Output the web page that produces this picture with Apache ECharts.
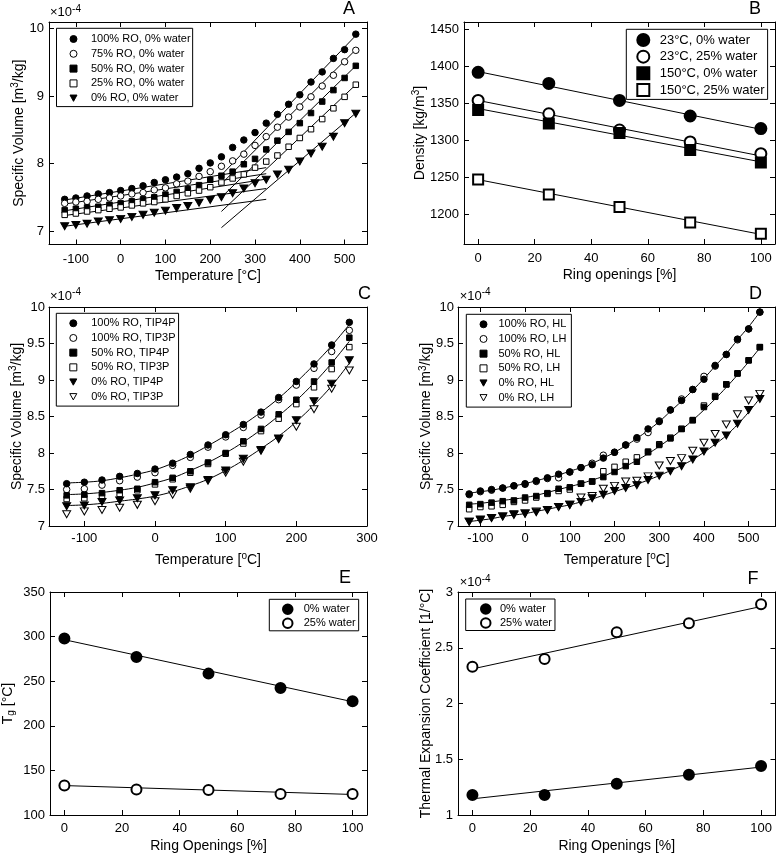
<!DOCTYPE html>
<html><head><meta charset="utf-8">
<script src="https://cdn.jsdelivr.net/npm/echarts@6/dist/echarts.min.js"></script>
<style>html,body{margin:0;padding:0;background:#fff}#c{width:777px;height:855px}</style>
</head><body><div id="c"></div>
<script>
const FONT = '"Liberation Sans", Arial, Helvetica, sans-serif';

// ---------- Panel A: specific volume (x1e-4 m3/kg) vs temperature ----------
const tempA = [-125,-100,-75,-50,-25,0,25,50,75,100,125,150,175,200,225,250,275,300,325,350,375,400,425,450,475,500,525];
const A_ro100 = [7.47,7.49,7.52,7.55,7.57,7.60,7.63,7.67,7.72,7.76,7.80,7.85,7.93,8.01,8.10,8.24,8.35,8.46,8.60,8.73,8.88,9.02,9.21,9.36,9.56,9.69,9.92];
const A_ro75  = [7.41,7.43,7.44,7.47,7.49,7.52,7.55,7.57,7.61,7.64,7.70,7.74,7.81,7.88,7.96,8.04,8.14,8.27,8.40,8.54,8.69,8.84,8.99,9.15,9.31,9.51,9.68];
const A_ro50  = [7.31,7.33,7.35,7.36,7.39,7.41,7.44,7.47,7.50,7.54,7.58,7.62,7.68,7.76,7.82,7.88,7.99,8.07,8.21,8.34,8.47,8.60,8.75,8.92,9.09,9.27,9.45];
const A_ro25  = [7.24,7.26,7.29,7.31,7.33,7.35,7.38,7.41,7.43,7.47,7.52,7.56,7.60,7.65,7.72,7.78,7.84,7.94,8.03,8.12,8.25,8.38,8.51,8.66,8.82,8.99,9.17];
const A_ro0   = [7.07,7.09,7.11,7.14,7.16,7.18,7.21,7.24,7.27,7.30,7.34,7.37,7.42,7.46,7.50,7.56,7.63,7.71,7.76,7.84,7.91,8.03,8.15,8.25,8.40,8.60,8.74];
// fitted glassy / rubbery lines (end points)
const A_glassT = [-125, 325];
const A_glass100 = [7.46, 7.94], A_glass75 = [7.40, 7.85], A_glass50 = [7.30, 7.77], A_glass25 = [7.23, 7.63], A_glass0 = [7.07, 7.47];
const A_rubT = [225, 525];
const A_rub100 = [7.83, 9.90], A_rub75 = [7.70, 9.69], A_rub50 = [7.50, 9.45], A_rub25 = [7.29, 9.17], A_rub0 = [7.05, 8.75];

// ---------- Panel B: density vs ring openings ----------
const ringB = [0,25,50,75,100];
const B_23_0   = [1392,1377,1354,1333,1316];
const B_23_25  = [1354,1336,1314,1298,1282];
const B_150_0  = [1341,1323,1310,1287,1270];
const B_150_25 = [1247,1227,1210,1189,1174];
const B_fitX = [0,100];
const B_fit23_0 = [1393,1315], B_fit23_25 = [1354,1279], B_fit150_0 = [1343,1271], B_fit150_25 = [1247,1173];

// ---------- Panel C: water models ----------
const tempC = [-125,-100,-75,-50,-25,0,25,50,75,100,125,150,175,200,225,250,275];
const C_100_4 = [7.58,7.60,7.63,7.68,7.72,7.78,7.86,7.98,8.11,8.25,8.39,8.56,8.76,8.98,9.22,9.48,9.79];
const C_100_3 = [7.50,7.51,7.56,7.62,7.67,7.73,7.83,7.94,8.08,8.22,8.35,8.52,8.73,8.93,9.16,9.39,9.68];
const C_50_4  = [7.42,7.43,7.45,7.49,7.51,7.60,7.66,7.75,7.87,8.00,8.16,8.33,8.53,8.73,8.98,9.24,9.58];
const C_50_3  = [7.37,7.38,7.41,7.44,7.49,7.57,7.64,7.73,7.85,7.99,8.13,8.30,8.47,8.67,8.90,9.15,9.45];
const C_0_4   = [7.27,7.28,7.33,7.35,7.38,7.42,7.49,7.53,7.63,7.76,7.92,8.04,8.20,8.45,8.71,8.95,9.27];
const C_0_3   = [7.16,7.20,7.22,7.25,7.29,7.34,7.43,7.51,7.62,7.73,7.88,8.03,8.19,8.36,8.60,8.88,9.13];
const C_fit100 = [7.59,7.60,7.62,7.66,7.71,7.77,7.86,7.97,8.10,8.24,8.39,8.56,8.75,8.97,9.21,9.47,9.76];
const C_fit50  = [7.43,7.44,7.46,7.49,7.53,7.59,7.66,7.76,7.87,8.00,8.15,8.32,8.51,8.72,8.96,9.23,9.53];
const C_fit0   = [7.28,7.29,7.31,7.34,7.37,7.41,7.47,7.55,7.64,7.76,7.90,8.06,8.23,8.43,8.66,8.92,9.23];

// ---------- Panel D: heating/cooling ----------
const tempD = [-125,-100,-75,-50,-25,0,25,50,75,100,125,150,175,200,225,250,275,300,325,350,375,400,425,450,475,500,525];
const D_100HL = [7.44,7.48,7.50,7.52,7.55,7.58,7.62,7.66,7.71,7.74,7.80,7.84,7.93,8.01,8.11,8.21,8.33,8.43,8.59,8.72,8.87,9.01,9.20,9.35,9.56,9.70,9.93];
const D_100LH = [7.43,7.47,7.49,7.52,7.55,7.57,7.61,7.65,7.66,7.74,7.80,7.86,7.97,8.01,8.11,8.19,8.28,8.44,8.59,8.74,8.87,9.05,9.19,9.35,9.55,9.70,9.93];
const D_50HL  = [7.29,7.30,7.32,7.34,7.35,7.39,7.41,7.45,7.51,7.53,7.58,7.61,7.67,7.74,7.82,7.88,8.01,8.11,8.20,8.33,8.45,8.63,8.77,8.94,9.09,9.27,9.45];
const D_50LH  = [7.23,7.26,7.27,7.29,7.33,7.35,7.39,7.44,7.48,7.50,7.58,7.61,7.75,7.81,7.88,7.94,8.02,8.12,8.21,8.33,8.45,8.65,8.78,8.94,9.09,9.27,9.45];
const D_0HL   = [7.06,7.09,7.11,7.13,7.16,7.17,7.19,7.22,7.26,7.29,7.33,7.38,7.43,7.48,7.52,7.56,7.63,7.69,7.75,7.82,7.91,8.02,8.14,8.24,8.40,8.59,8.74];
const D_0LH   = [7.06,7.08,7.11,7.13,7.15,7.17,7.20,7.22,7.26,7.29,7.39,7.41,7.51,7.55,7.61,7.62,7.68,7.83,7.89,7.93,8.03,8.14,8.26,8.39,8.53,8.72,8.81];
const D_fit100 = [7.45,7.47,7.49,7.52,7.55,7.58,7.62,7.66,7.70,7.75,7.80,7.86,7.93,8.01,8.10,8.20,8.31,8.43,8.57,8.71,8.86,9.02,9.19,9.36,9.55,9.73,9.93];
const D_fit50  = [7.30,7.31,7.33,7.35,7.37,7.39,7.42,7.46,7.50,7.54,7.58,7.63,7.68,7.75,7.82,7.90,7.99,8.09,8.20,8.32,8.45,8.59,8.74,8.90,9.07,9.25,9.44];
const D_fit0   = [7.06,7.08,7.10,7.13,7.15,7.17,7.20,7.23,7.26,7.29,7.33,7.37,7.42,7.47,7.52,7.57,7.63,7.69,7.76,7.83,7.91,8.01,8.12,8.24,8.39,8.56,8.75];

// ---------- Panel E: Tg ----------
const ringE = [0,25,50,75,100];
const E_w0  = [298,277,258.5,242.5,227.5];
const E_w25 = [133,128.5,128,123.5,123.5];
const E_fitX = [0,100];
const E_fitw0 = [296.5,227], E_fitw25 = [133,123];

// ---------- Panel F: thermal expansion coefficient (x1e-4 1/°C) ----------
const ringF = [0,25,50,75,100];
const F_w0  = [1.18,1.18,1.28,1.36,1.44];
const F_w25 = [2.33,2.40,2.64,2.72,2.89];
const F_fitX = [0,100];
const F_fitw0 = [1.145,1.43], F_fitw25 = [2.31,2.87];

// ---------- tick labels ----------
const ticksTempA = [-100,0,100,200,300,400,500];
const ticksSVA = [7,8,9,10];
const ticksRing = [0,20,40,60,80,100];
const ticksDens = [1200,1250,1300,1350,1400,1450];
const ticksTempC = [-100,0,100,200,300];
const ticksSVC = [7,7.5,8,8.5,9,9.5,10];
const ticksTg = [100,150,200,250,300,350];
const ticksTEC = [1,1.5,2,2.5,3];

const TRI_DOWN = 'path://M0,0L10,0L5,9Z';

const RICH = {
  sup: {fontSize: 10, fontFamily: FONT, color: '#000', verticalAlign: 'top', padding: [0,0,7,0]},
  sub: {fontSize: 10, fontFamily: FONT, color: '#000', verticalAlign: 'bottom', padding: [7,0,0,0]}
};

const panels = [
  {grid:{left:49,top:22,width:318,height:222.5},
   x:{min:-160,max:550,ticks:ticksTempA,name:'Temperature [°C]',gap:25,margin:8},
   y:{min:6.8,max:10.1,ticks:ticksSVA,name:'Specific Volume [m{sup|3}/kg]',gap:21.5,margin:5}},
  {grid:{left:464,top:22,width:311,height:222},
   x:{min:-5,max:105,ticks:ticksRing,name:'Ring openings [%]',gap:24.5,margin:8},
   y:{min:1160,max:1460,ticks:ticksDens,name:'Density [kg/m{sup|3}]',gap:35.8,margin:5}},
  {grid:{left:49,top:307,width:318,height:219},
   x:{min:-150,max:300,ticks:ticksTempC,name:'Temperature [{sup|o}C]',gap:25.5,margin:6},
   y:{min:7,max:10,ticks:ticksSVC,name:'Specific Volume [m{sup|3}/kg]',gap:23.8,margin:4}},
  {grid:{left:458,top:307,width:317.5,height:219},
   x:{min:-150,max:560,ticks:ticksTempA,name:'Temperature [{sup|o}C]',gap:25.5,margin:6},
   y:{min:7,max:10,ticks:ticksSVC,name:'Specific Volume [m{sup|3}/kg]',gap:23.2,margin:4}},
  {grid:{left:50,top:592,width:317,height:223},
   x:{min:-5,max:105,ticks:ticksRing,name:'Ring Openings [%]',gap:24,margin:7},
   y:{min:100,max:350,ticks:ticksTg,name:'T{sub|g} [°C]',gap:33.5,margin:5}},
  {grid:{left:458,top:592,width:317.5,height:223},
   x:{min:-5,max:105,ticks:ticksRing,name:'Ring Openings [%]',gap:24,margin:7},
   y:{min:1,max:3,ticks:ticksTEC,name:'Thermal Expansion Coefficient [1/°C]',gap:24.7,margin:5}}
];

const plain = v => String(v);
const grids = [], xAxes = [], yAxes = [];
panels.forEach((p, i) => {
  grids.push(Object.assign({outerBoundsMode:'none', containLabel:false}, p.grid));
  [false, true].forEach(mirror => {
    xAxes.push({
      type:'value', gridIndex:i, position: mirror ? 'top' : 'bottom', min:p.x.min, max:p.x.max,
      axisLine:{show:true, onZero:false, lineStyle:{color:'#000', width:1}},
      axisTick:{show:true, inside:true, length:5, customValues:p.x.ticks, lineStyle:{color:'#000', width:1}},
      axisLabel:{show:!mirror, customValues:p.x.ticks, formatter:plain, margin:p.x.margin, fontSize:13, fontFamily:FONT, color:'#000'},
      splitLine:{show:false}, minorTick:{show:false},
      name: mirror ? '' : p.x.name, nameLocation:'middle', nameGap:p.x.gap, nameMoveOverlap:false,
      nameTextStyle:{fontSize:14, fontFamily:FONT, color:'#000', rich:RICH}
    });
    yAxes.push({
      type:'value', gridIndex:i, position: mirror ? 'right' : 'left', min:p.y.min, max:p.y.max,
      axisLine:{show:true, onZero:false, lineStyle:{color:'#000', width:1}},
      axisTick:{show:true, inside:true, length:5, customValues:p.y.ticks, lineStyle:{color:'#000', width:1}},
      axisLabel:{show:!mirror, customValues:p.y.ticks, formatter:plain, margin:p.y.margin, fontSize:13, fontFamily:FONT, color:'#000'},
      splitLine:{show:false}, minorTick:{show:false},
      name: mirror ? '' : p.y.name, nameLocation:'middle', nameGap:p.y.gap, nameMoveOverlap:false,
      nameTextStyle:{fontSize:14, fontFamily:FONT, color:'#000', rich:RICH}
    });
  });
});

function pairs(xs, ys) { return xs.map((x, k) => [x, ys[k]]); }
function sc(name, gi, xs, ys, sym, fill, size, bw) {
  return {type:'scatter', name:name, xAxisIndex:2*gi, yAxisIndex:2*gi, data:pairs(xs, ys),
    symbol:sym, symbolSize:size, silent:true, z:3,
    itemStyle:{color:fill, borderColor:'#000', borderWidth:bw, opacity:1}};
}
function ln(gi, xs, ys, smooth) {
  return {type:'line', xAxisIndex:2*gi, yAxisIndex:2*gi, data:pairs(xs, ys), symbol:'none',
    smooth: smooth || false, silent:true, z:2, lineStyle:{color:'#000', width:1}};
}
const K = '#000', W = '#fff';
const series = [
  // A lines
  ln(0,A_glassT,A_glass100), ln(0,A_glassT,A_glass75), ln(0,A_glassT,A_glass50), ln(0,A_glassT,A_glass25), ln(0,A_glassT,A_glass0),
  ln(0,A_rubT,A_rub100), ln(0,A_rubT,A_rub75), ln(0,A_rubT,A_rub50), ln(0,A_rubT,A_rub25), ln(0,A_rubT,A_rub0),
  sc('A|100% RO, 0% water',0,tempA,A_ro100,'circle',K,6.5,1),
  sc('A|75% RO, 0% water',0,tempA,A_ro75,'circle',W,6.5,1),
  sc('A|50% RO, 0% water',0,tempA,A_ro50,'rect',K,5.5,1),
  sc('A|25% RO, 0% water',0,tempA,A_ro25,'rect',W,5.5,1),
  sc('A|0% RO, 0% water',0,tempA,A_ro0,TRI_DOWN,K,[8,7],1),
  // B
  ln(1,B_fitX,B_fit23_0), ln(1,B_fitX,B_fit23_25), ln(1,B_fitX,B_fit150_0), ln(1,B_fitX,B_fit150_25),
  sc('B|23°C, 0% water',1,ringB,B_23_0,'circle',K,11,2),
  sc('B|23°C, 25% water',1,ringB,B_23_25,'circle',W,11,2),
  sc('B|150°C, 0% water',1,ringB,B_150_0,'rect',K,10,2),
  sc('B|150°C, 25% water',1,ringB,B_150_25,'rect',W,10,2),
  // C
  ln(2,tempC,C_fit100,0.4), ln(2,tempC,C_fit50,0.4), ln(2,tempC,C_fit0,0.4),
  sc('C|100% RO, TIP3P',2,tempC,C_100_3,'circle',W,6.5,1),
  sc('C|100% RO, TIP4P',2,tempC,C_100_4,'circle',K,6.5,1),
  sc('C|50% RO, TIP3P',2,tempC,C_50_3,'rect',W,5.5,1),
  sc('C|50% RO, TIP4P',2,tempC,C_50_4,'rect',K,5.5,1),
  sc('C|0% RO, TIP3P',2,tempC,C_0_3,TRI_DOWN,W,[8,7],1),
  sc('C|0% RO, TIP4P',2,tempC,C_0_4,TRI_DOWN,K,[8,7],1),
  // D
  ln(3,tempD,D_fit100,0.4), ln(3,tempD,D_fit50,0.4), ln(3,tempD,D_fit0,0.4),
  sc('D|100% RO, LH',3,tempD,D_100LH,'circle',W,6.5,1),
  sc('D|100% RO, HL',3,tempD,D_100HL,'circle',K,6.5,1),
  sc('D|50% RO, LH',3,tempD,D_50LH,'rect',W,5.5,1),
  sc('D|50% RO, HL',3,tempD,D_50HL,'rect',K,5.5,1),
  sc('D|0% RO, LH',3,tempD,D_0LH,TRI_DOWN,W,[8,7],1),
  sc('D|0% RO, HL',3,tempD,D_0HL,TRI_DOWN,K,[8,7],1),
  // E
  ln(4,E_fitX,E_fitw0), ln(4,E_fitX,E_fitw25),
  sc('E|0% water',4,ringE,E_w0,'circle',K,10,2),
  sc('E|25% water',4,ringE,E_w25,'circle',W,10,2),
  // F
  ln(5,F_fitX,F_fitw0), ln(5,F_fitX,F_fitw25),
  sc('F|0% water',5,ringF,F_w0,'circle',K,10,2),
  sc('F|25% water',5,ringF,F_w25,'circle',W,10,2)
];

function mkLegend(names, o) {
  return {show:true, orient:'vertical', left:o.left, top:o.top, data:names,
    itemWidth:o.icon, itemHeight:o.icon, itemGap:0, padding:o.pad,
    borderColor:'#000', borderWidth:1, backgroundColor:'#fff', selectedMode:false,
    formatter: n => n.slice(2),
    itemStyle:{borderWidth:o.bw, borderColor:'#000'},
    textStyle:{fontSize:o.fs, fontFamily:FONT, color:'#000', lineHeight:o.lh, padding:[0,0,0,o.tp]}};
}
const legends = [
  mkLegend(['A|100% RO, 0% water','A|75% RO, 0% water','A|50% RO, 0% water','A|25% RO, 0% water','A|0% RO, 0% water'],
    {left:56.5, top:28.3, pad:[3.3,2,1,13], icon:7, tp:9, lh:14.8, fs:11, bw:1}),
  mkLegend(['B|23°C, 0% water','B|23°C, 25% water','B|150°C, 0% water','B|150°C, 25% water'],
    {left:626.3, top:29.3, pad:[2.3,3,1,10], icon:12, tp:5.4, lh:16.7, fs:13, bw:2}),
  mkLegend(['C|100% RO, TIP4P','C|100% RO, TIP3P','C|50% RO, TIP4P','C|50% RO, TIP3P','C|0% RO, TIP4P','C|0% RO, TIP3P'],
    {left:56.3, top:313.3, pad:[2.6,3,2,13], icon:7, tp:9.4, lh:14.7, fs:11, bw:1}),
  mkLegend(['D|100% RO, HL','D|100% RO, LH','D|50% RO, HL','D|50% RO, LH','D|0% RO, HL','D|0% RO, LH'],
    {left:466.3, top:314.3, pad:[2.6,5,2,13.2], icon:7, tp:6.5, lh:14.7, fs:11, bw:1}),
  mkLegend(['E|0% water','E|25% water'],
    {left:269.3, top:599.3, pad:[3,3,0.5,12.7], icon:9.5, tp:6.2, lh:14, fs:11, bw:2}),
  mkLegend(['F|0% water','F|25% water'],
    {left:465.7, top:599, pad:[3,3,0.5,14.3], icon:9.5, tp:4.5, lh:14, fs:11, bw:2})
];

function letter(t, x, y) {
  return {type:'text', x:x, y:y, silent:true, style:{text:t, fill:'#000', font:'18px "Liberation Sans", Arial, sans-serif', align:'right', verticalAlign:'top'}};
}
function expo(x, y) {
  return {type:'text', x:x, y:y, silent:true, style:{text:'×10{s|-4}', fill:'#000', font:'13px "Liberation Sans", Arial, sans-serif', verticalAlign:'top',
    rich:{s:{fontSize:10, fontFamily:FONT, fill:'#000', verticalAlign:'top', padding:[0,0,7,0]}}}};
}
const graphics = [
  letter('A',355,0.5), letter('B',761,0.5), letter('C',371,285.5), letter('D',762,285.5), letter('E',351,569), letter('F',758.5,570.5),
  expo(50,4), expo(50,287.5), expo(459.7,287.5), expo(459.7,574)
];

const chart = echarts.init(document.getElementById('c'), null, {renderer:'canvas'});
chart.setOption({
  animation:false, backgroundColor:'#fff',
  textStyle:{fontFamily:FONT},
  grid:grids, xAxis:xAxes, yAxis:yAxes, series:series, legend:legends, graphic:graphics,
  tooltip:{show:false}
});
</script></body></html>
